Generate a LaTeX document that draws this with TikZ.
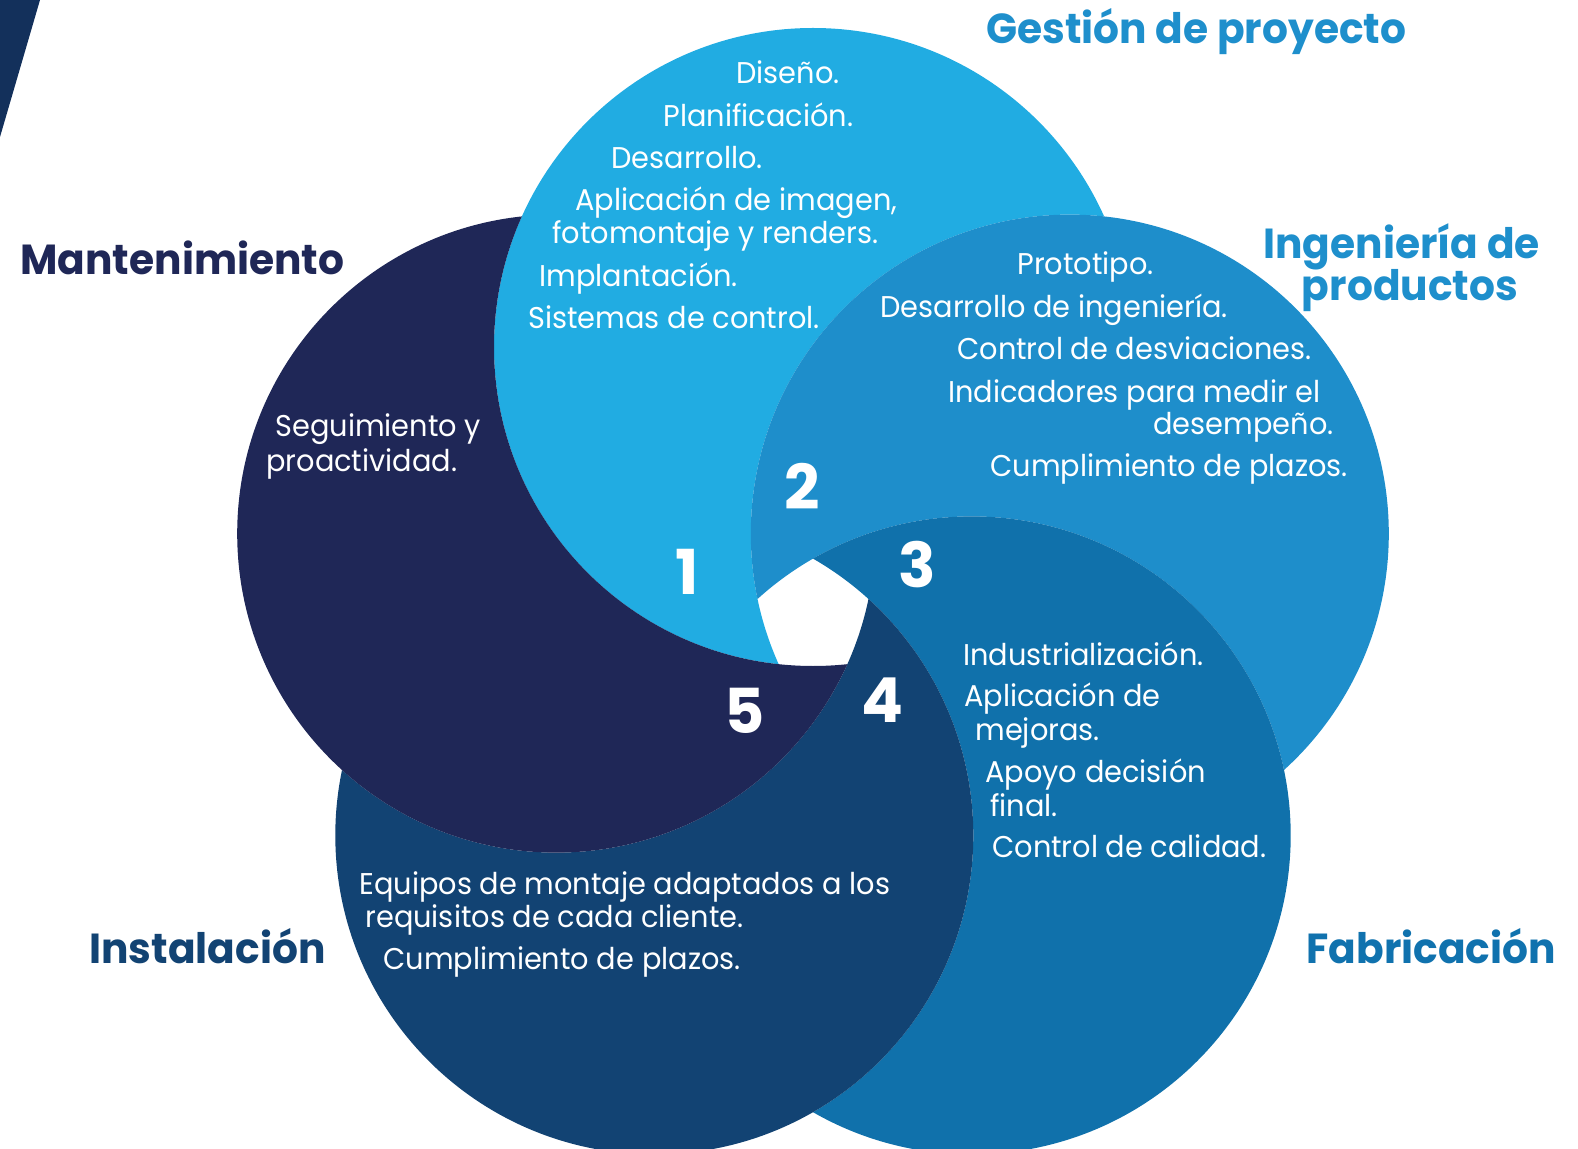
\documentclass[tikz,border=0pt]{standalone}
\usepackage{fontspec}
\setmainfont{Poppins}
\newfontfamily\bodyfont{Poppins}[FakeStretch=0.96]
\newfontfamily\headfont{Poppins}[FakeStretch=0.97]
\definecolor{cA}{HTML}{21ACE2}
\definecolor{cB}{HTML}{1E8ECB}
\definecolor{cC}{HTML}{1071AB}
\definecolor{cD}{HTML}{124373}
\definecolor{cE}{HTML}{1F2757}
\definecolor{triC}{HTML}{13305B}
\definecolor{hA}{HTML}{1E8FCC}
\definecolor{hC}{HTML}{1072AE}
\begin{document}
\begin{tikzpicture}[x=0.5pt,y=-0.5pt,
  body/.style={anchor=base west, inner sep=0pt, text=white, font=\bodyfont\fontsize{15}{18}\selectfont},
  head/.style={anchor=base west, inner sep=0pt, font=\headfont\fontsize{21}{25}\selectfont\bfseries},
  num/.style={anchor=center, inner sep=0pt, text=white, font=\fontsize{31}{36}\selectfont\bfseries}]
\def\R{159.5pt}
\useasboundingbox (0,0) rectangle (1578,1149);
\clip (0,0) rectangle (1578,1149);
\coordinate (c1) at (813,347);
\coordinate (c2) at (1069.8,533.6);
\coordinate (c3) at (971.7,835.4);
\coordinate (c4) at (654.3,835.4);
\coordinate (c5) at (556.2,533.6);
% corner triangle
\fill[triC] (0,0) -- (40,0) -- (0,137) -- cycle;
% circles: each circle minus the next one (pinwheel)
\begin{scope}\clip (c1) circle (\R);
  \fill[cA, even odd rule] (-10,-10) rectangle (1600,1200) (c2) circle (\R);\end{scope}
\begin{scope}\clip (c2) circle (\R);
  \fill[cB, even odd rule] (-10,-10) rectangle (1600,1200) (c3) circle (\R);\end{scope}
\begin{scope}\clip (c3) circle (\R);
  \fill[cC, even odd rule] (-10,-10) rectangle (1600,1200) (c4) circle (\R);\end{scope}
\begin{scope}\clip (c4) circle (\R);
  \fill[cD, even odd rule] (-10,-10) rectangle (1600,1200) (c5) circle (\R);\end{scope}
\begin{scope}\clip (c5) circle (\R);
  \fill[cE, even odd rule] (-10,-10) rectangle (1600,1200) (c1) circle (\R);\end{scope}
% headings
\node[head, text=hA] (hg) at (986,44) {Gestión de proyecto};
\node[head, text=hA] (hi1) at (1263,259) {Ingeniería de};
\node[head, text=hA, anchor=base] (hi2) at (1410,301) {productos};
\node[head, text=cE] (hm) at (20,275) {Mantenimiento};
\node[head, text=cD] (hin) at (89,963) {Instalación};
\node[head, text=hC] (hf) at (1306,963) {Fabricación};
% circle 1 text
\node[body] (a1) at (736,84) {Diseño.};
\node[body] (a2) at (663,127) {Planificación.};
\node[body] (a3) at (611,169) {Desarrollo.};
\node[body] (a4) at (575,211) {Aplicación de imagen,};
\node[body] (a5) at (552,244) {fotomontaje y renders.};
\node[body] (a6) at (539,287) {Implantación.};
\node[body] (a7) at (528,329) {Sistemas de control.};
% circle 2 text
\node[body] (b1) at (1017,275) {Prototipo.};
\node[body] (b2) at (880,318) {Desarrollo de ingeniería.};
\node[body] (b3) at (957,360) {Control de desviaciones.};
\node[body] (b4) at (948,403) {Indicadores para medir el};
\node[body, anchor=base east] (b5) at (1334,435) {desempeño.};
\node[body] (b6) at (990,477) {Cumplimiento de plazos.};
% circle 3 text
\node[body] (d1) at (963,665) {Industrialización.};
\node[body] (d2) at (964,706) {Aplicación de};
\node[body] (d3) at (975,740) {mejoras.};
\node[body] (d4) at (985,782) {Apoyo decisión};
\node[body] (d5) at (990,816) {final.};
\node[body] (d6) at (992,857) {Control de calidad.};
% circle 4 text
\node[body] (e1) at (359,894) {Equipos de montaje adaptados a los};
\node[body] (e2) at (365,927) {requisitos de cada cliente.};
\node[body] (e3) at (383,969) {Cumplimiento de plazos.};
% circle 5 text
\node[body] (f1) at (275,437) {Seguimiento y};
\node[body] (f2) at (266,472) {proactividad.};
% numbers
\node[num] (n1) at (687,572) {1};
\node[num] (n2) at (802,486) {2};
\node[num] (n3) at (917,565) {3};
\node[num] (n4) at (882,700) {4};
\node[num] (n5) at (745,711) {5};
\end{tikzpicture}
\end{document}
